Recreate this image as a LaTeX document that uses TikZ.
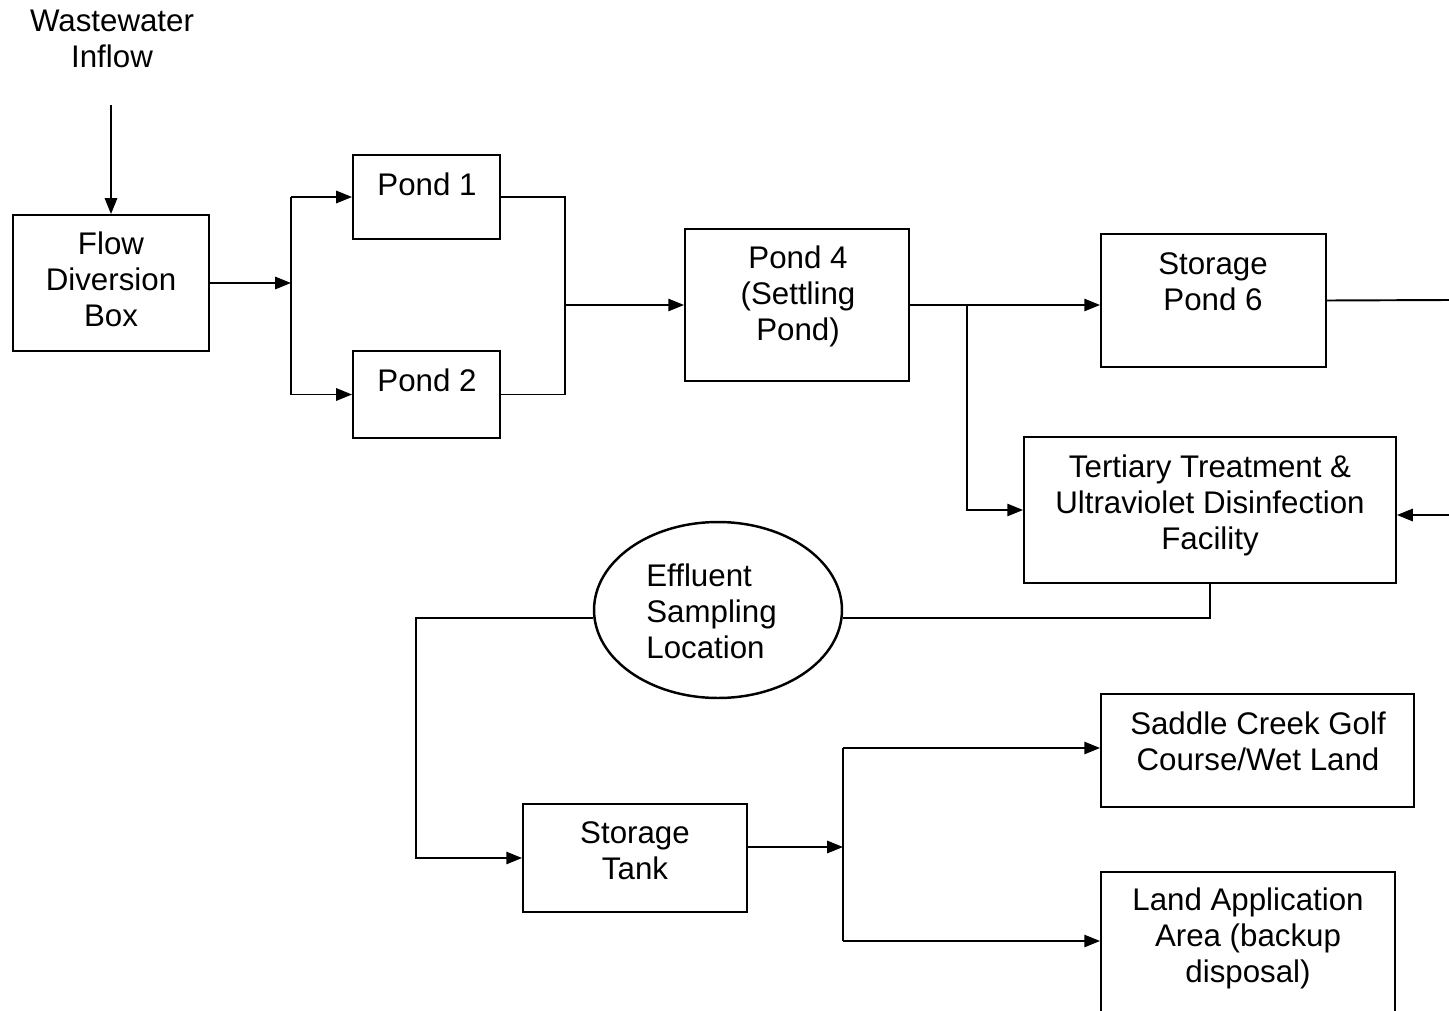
\documentclass[tikz,border=0pt]{standalone}
\usepackage{fontspec}
\setmainfont{Liberation Sans}
\usepackage{tikz}
\usetikzlibrary{shapes.geometric, arrows.meta, calc}

\begin{document}
\begin{tikzpicture}[x=0.02cm, y=-0.02cm,
    box/.style={rectangle,draw,line width=1.1pt,inner sep=0pt},
    oval/.style={ellipse,draw,line width=1.4pt,inner sep=0pt},
    txt/.style={align=center,inner sep=0pt,font=\fontsize{17.8}{20.5}\selectfont},
    link/.style={line width=1.1pt},
    arr/.style={link,-{Triangle[length=9pt,width=7pt]}}]
    \useasboundingbox (0,0) rectangle (1449,1010);
    \clip (0,0) rectangle (1449,1010);

    % Inflow
    \node[txt] (inflow) at (112,39) {Wastewater\\Inflow};
    \node[box,minimum width=3.92cm,minimum height=2.72cm] (flow) at (111,283) {};
    \node[txt] (flowtxt) at (111,279) {Flow\\Diversion\\Box};
    \coordinate (instart) at (111,105);
    \draw[arr] (instart) -- (flow.north);

    % Ponds 1 and 2
    \node[box,minimum width=2.94cm,minimum height=1.68cm] (pond1) at (426.5,197) {};
    \node[txt] (pond1txt) at (427,184) {Pond 1};
    \node[box,minimum width=2.94cm,minimum height=1.74cm] (pond2) at (426.5,394.5) {};
    \node[txt] (pond2txt) at (427,380) {Pond 2};

    % Split
    \coordinate (split) at (291,283);
    \draw[arr] (flow.east) -- (split);
    \draw[link] (split |- pond1.west) -- (split |- pond2.west);
    \draw[arr] (split |- pond1.west) -- (pond1.west);
    \draw[arr] (split |- pond2.west) -- (pond2.west);

    % Pond 4
    \node[box,minimum width=4.48cm,minimum height=3.04cm] (pond4) at (797,305) {};
    \node[txt] (pond4txt) at (798,296) {Pond 4\\(Settling\\Pond)};
    \coordinate (merge) at (565,305);
    \draw[link] (pond1.east) -| (merge) |- (pond2.east);
    \draw[arr] (merge) -- (pond4.west);

    % Storage Pond 6
    \node[box,minimum width=4.5cm,minimum height=2.66cm] (pond6) at (1213.5,300.5) {};
    \node[txt] (pond6txt) at (1213,282) {Storage\\Pond 6};
    \draw[arr] (pond4.east) -- (pond4.east -| pond6.west);
    \coordinate (rightout) at (1449,300);
    \draw[link] (pond6.east) -- (rightout);

    % Tertiary treatment
    \node[box,minimum width=7.44cm,minimum height=2.92cm] (tert) at (1210,510) {};
    \node[txt] (terttxt) at (1210,505) {Tertiary Treatment \&\\Ultraviolet Disinfection\\Facility};
    \coordinate (tap) at (967,305);
    \draw[arr] (tap) |- (tert.west);
    \coordinate (rightin) at (1449,515);
    \draw[arr] (rightin) -- (rightin -| tert.east);

    % Sampling
    \node[oval,minimum width=4.96cm,minimum height=3.52cm] (sample) at (718,610) {};
    \node[txt,align=left,anchor=west] (sampletxt) at (646,611) {Effluent\\Sampling\\Location};
    \coordinate (sampy) at (1210,618);
    \draw[link] (tert.south) -- (sampy) -- (sampy -| sample.east);

    % Storage tank
    \node[box,minimum width=4.48cm,minimum height=2.16cm] (tank) at (635,858) {};
    \node[txt] (tanktxt) at (635,851) {Storage\\Tank};
    \coordinate (leftbend) at (416,618);
    \draw[arr] (sampy -| sample.west) -- (leftbend) |- (tank.west);

    % Disposal
    \node[box,minimum width=6.26cm,minimum height=2.26cm] (golf) at (1257.5,750.5) {};
    \node[txt] (golftxt) at (1258,741) {Saddle Creek Golf\\Course/Wet Land};
    \node[box,minimum width=5.88cm,minimum height=3.16cm] (land) at (1248,951) {};
    \node[txt] (landtxt) at (1248,938) {Land Application\\Area (backup\\disposal)};
    \coordinate (fork) at (843,847);
    \coordinate (golfin) at (843,748);
    \coordinate (landin) at (843,941);
    \draw[arr] (fork -| tank.east) -- (fork);
    \draw[link] (golfin) -- (landin);
    \draw[arr] (golfin) -- (golfin -| golf.west);
    \draw[arr] (landin) -- (landin -| land.west);
\end{tikzpicture}
\end{document}
